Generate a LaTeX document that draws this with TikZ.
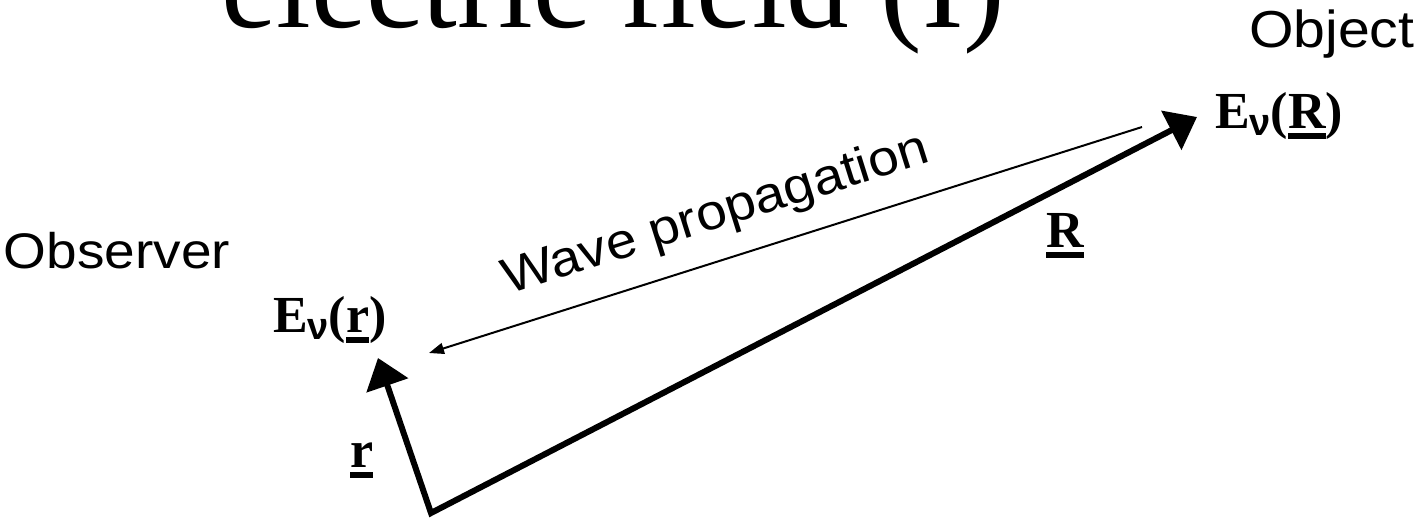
\documentclass[tikz,border=0pt]{standalone}
\usepackage{fontspec}
\setmainfont{Liberation Serif}
\newfontfamily\sansf[FakeStretch=1.1]{Liberation Sans}
\newfontfamily\nuf{Liberation Sans}
\usetikzlibrary{arrows.meta}
\newcommand\ulbox[1]{\setbox0\hbox{#1}\rlap{\vrule width\wd0 height -5pt depth 11pt}\box0}
\newcommand\subnu{\raisebox{-7pt}{\nuf\fontsize{38}{38}\selectfont ν}}
\tikzset{
  lbl/.style={inner sep=0pt, outer sep=0pt, anchor=base west},
  sanslbl/.style={lbl, font=\sansf\fontsize{50}{60}\selectfont},
  seriflbl/.style={lbl, font=\fontsize{52}{60}\selectfont\bfseries},
  vecarrow/.style={line width=6pt, line join=miter,
    {Triangle[length=29pt,width=43pt]}-{Triangle[length=29pt,width=43pt]}},
  wavearrow/.style={line width=2pt, -{Triangle[length=15pt,width=11pt]}}
}
\begin{document}
\begin{tikzpicture}[x=1pt,y=-1pt]
\useasboundingbox (0,0) rectangle (1414,520);
% title
\node[lbl, font=\fontsize{125}{130}\selectfont] (title) at (221,27) {electric field (I)};
% labels
\node[sanslbl] (obs) at (4,268) {Observer};
\node[sanslbl, font=\sansf\fontsize{52}{60}\selectfont] (objl) at (1249,47) {Object};
\node[seriflbl] (ER) at (1215,128) {E\subnu(\ulbox{R})};
\node[seriflbl] (Er) at (273,332) {E\subnu(\ulbox{r})};
\node[seriflbl] (Rl) at (1046,247) {\ulbox{R}};
\node[seriflbl] (rl) at (350,467) {\ulbox{r}};
\node[inner sep=0pt, anchor=base, rotate=17.5, font=\sansf\fontsize{50}{60}\selectfont] (wave) at (720,228) {Wave propagation};
% vectors
\coordinate (O) at (431,513);
\coordinate (tipR) at (1197,117);
\coordinate (tipr) at (378,358);
\draw[vecarrow] (tipr) -- (O) -- (tipR);
% wave propagation arrow
\coordinate (wstart) at (1142,127);
\coordinate (wend) at (429,353);
\draw[wavearrow] (wstart) -- (wend);
\end{tikzpicture}
\end{document}
